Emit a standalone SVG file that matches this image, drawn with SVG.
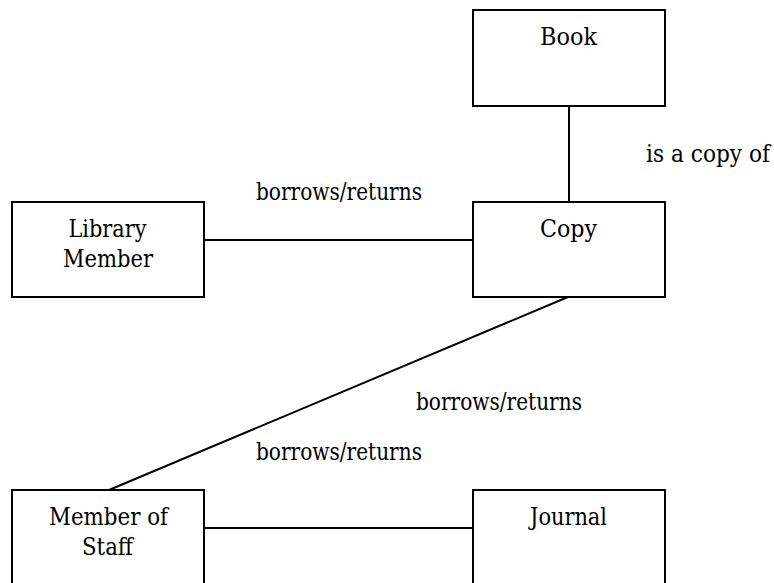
<svg xmlns="http://www.w3.org/2000/svg" width="774" height="583" viewBox="0 0 774 583">
  <style>
    .box { fill: #ffffff; stroke: #000000; stroke-width: 2; }
    .link { stroke: #000000; stroke-width: 2; fill: none; }
    text { font-family: "DejaVu Serif", "Liberation Serif", serif; font-size: 23.5px; fill: #000000; }
    .c { text-anchor: middle; }
    .e { text-anchor: end; }
  </style>
  <rect width="774" height="583" fill="#ffffff"/>

  <!-- associations -->
  <g id="connectors">
    <line class="link" x1="569" y1="106" x2="569" y2="202"/>
    <line class="link" x1="205" y1="240" x2="473" y2="240"/>
    <line class="link" x1="568" y1="297" x2="109" y2="490"/>
    <line class="link" x1="205" y1="528" x2="473" y2="528"/>
  </g>

  <g id="book">
    <rect class="box" x="473" y="10" width="192" height="96"/>
    <text class="c" x="568.5" y="45" textLength="57" lengthAdjust="spacingAndGlyphs">Book</text>
  </g>

  <g id="copy">
    <rect class="box" x="473" y="202" width="192" height="95"/>
    <text class="c" x="568.5" y="237" textLength="57" lengthAdjust="spacingAndGlyphs">Copy</text>
  </g>

  <g id="library-member">
    <rect class="box" x="12" y="202" width="192" height="95"/>
    <text class="c" x="107.5" y="237" textLength="78" lengthAdjust="spacingAndGlyphs">Library</text>
    <text class="c" x="108" y="267" textLength="90" lengthAdjust="spacingAndGlyphs">Member</text>
  </g>

  <g id="member-of-staff">
    <rect class="box" x="12" y="490" width="192" height="100"/>
    <text class="c" x="108.5" y="525" textLength="119" lengthAdjust="spacingAndGlyphs">Member of</text>
    <text class="c" x="107.5" y="555" textLength="51" lengthAdjust="spacingAndGlyphs">Staff</text>
  </g>

  <g id="journal">
    <rect class="box" x="473" y="490" width="192" height="100"/>
    <text class="c" x="568.5" y="525" textLength="77" lengthAdjust="spacingAndGlyphs">Journal</text>
  </g>

  <!-- association labels -->
  <g id="labels">
    <text class="e" x="770" y="162" textLength="124" lengthAdjust="spacingAndGlyphs">is a copy of</text>
    <text x="256" y="200" textLength="166" lengthAdjust="spacingAndGlyphs">borrows/returns</text>
    <text x="416" y="410" textLength="166" lengthAdjust="spacingAndGlyphs">borrows/returns</text>
    <text x="256" y="460" textLength="166" lengthAdjust="spacingAndGlyphs">borrows/returns</text>
  </g>
</svg>
